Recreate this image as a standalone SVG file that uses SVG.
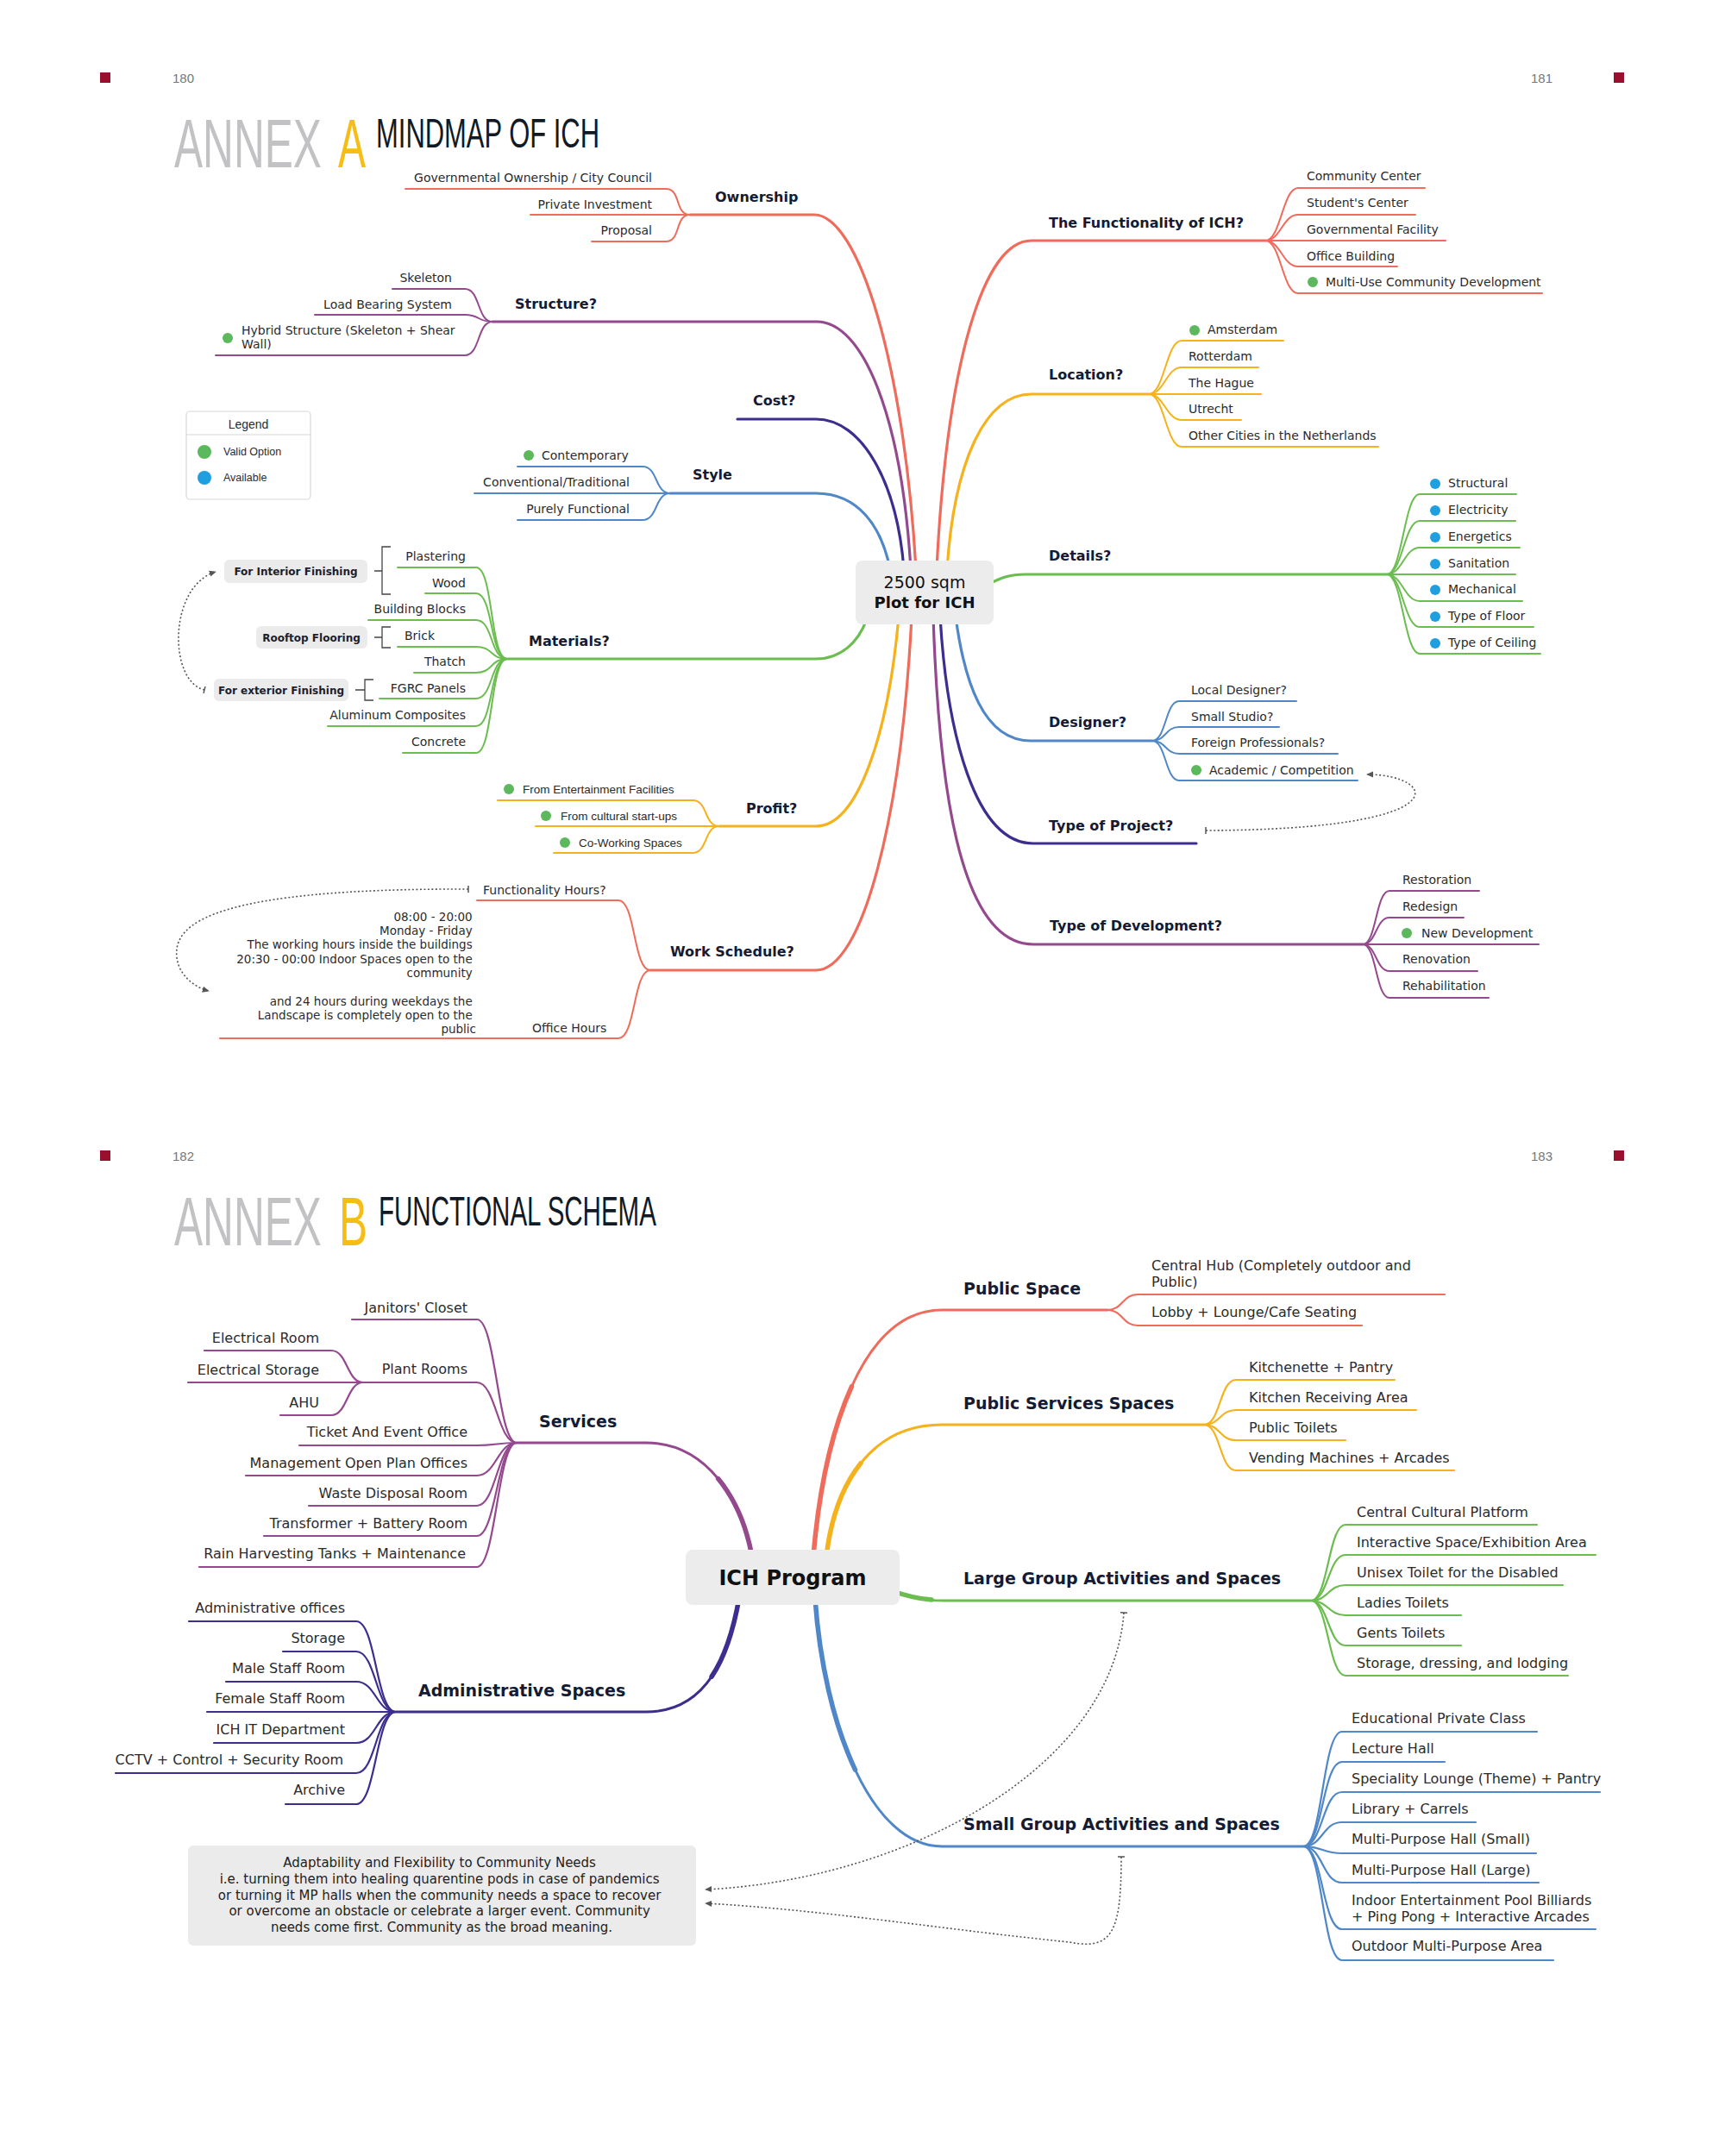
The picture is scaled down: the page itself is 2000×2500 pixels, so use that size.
<svg xmlns="http://www.w3.org/2000/svg" width="2000" height="2500" viewBox="0 0 2000 2500">
<style>
.t{font-family:'DejaVu Sans',sans-serif;fill:#2b2b2b}
.c{font-size:14px}
.b{font-weight:bold;font-size:16px;fill:#141b33}
.cb{font-size:16px}
.bb{font-weight:bold;font-size:19px;fill:#141b33}
.ls{font-family:'Liberation Sans',Arial,sans-serif;fill:#2b2b2b}
.e{text-anchor:end}
.m{text-anchor:middle}
.k{fill:none;stroke-linecap:round}
.w1{stroke-width:3.2}.w2{stroke-width:2}.w3{stroke-width:3}.w4{stroke-width:2.2}.w5{stroke-width:5.5}
.red{stroke:#ef6b5b}.pur{stroke:#94498f}.nav{stroke:#3c2e8e}.blu{stroke:#4f87c8}.ora{stroke:#f6b21c}.gre{stroke:#6cbd50}
.dash{fill:none;stroke:#555;stroke-width:1.6;stroke-dasharray:2 2.5}
.dg{fill:#5cb85c}.db{fill:#1f9fe0}
.lab{fill:#ebebeb}
.lbt{font-family:'DejaVu Sans',sans-serif;font-weight:bold;font-size:12px;fill:#1d1d2b;text-anchor:middle}
.br{fill:none;stroke:#444;stroke-width:1.3}
.ttl{font-family:'Liberation Sans',Arial,sans-serif}
.gy{fill:#c2c2c4}.yl{fill:#f6bd16}.dk{fill:#111a24}
</style>
<defs>
<marker id="arr" viewBox="0 -5 10 10" refX="8" refY="0" markerWidth="9" markerHeight="9" markerUnits="userSpaceOnUse" orient="auto"><path d="M0 -4 L9 0 L0 4 z" fill="#555"/></marker>
<marker id="tick" viewBox="-5 -5 10 10" refX="0" refY="0" markerWidth="10" markerHeight="10" markerUnits="userSpaceOnUse" orient="auto"><path d="M0 -4 V4" stroke="#555" stroke-width="1.5"/></marker>
</defs>
<rect width="2000" height="2500" fill="#fff"/>

<!-- page headers -->
<g id="header-a">
<rect x="116" y="84" width="12" height="12" fill="#9b0f2e"/>
<rect x="1871" y="84" width="12" height="12" fill="#9b0f2e"/>
<text class="ls" x="200" y="96" font-size="15" style="fill:#777">180</text>
<text class="ls e" x="1800" y="96" font-size="15" style="fill:#777">181</text>
<text class="ttl gy" transform="translate(202 194) scale(0.62 1)" font-size="80">ANNEX</text>
<text class="ttl yl" transform="translate(392 194) scale(0.6 1)" font-size="80">A</text>
<text class="ttl dk" transform="translate(436 171) scale(0.645 1)" font-size="48">MINDMAP OF ICH</text>
</g>
<g id="header-b">
<rect x="116" y="1334" width="12" height="12" fill="#9b0f2e"/>
<rect x="1871" y="1334" width="12" height="12" fill="#9b0f2e"/>
<text class="ls" x="200" y="1346" font-size="15" style="fill:#777">182</text>
<text class="ls e" x="1800" y="1346" font-size="15" style="fill:#777">183</text>
<text class="ttl gy" transform="translate(202 1444) scale(0.62 1)" font-size="80">ANNEX</text>
<text class="ttl yl" transform="translate(393 1444) scale(0.62 1)" font-size="80">B</text>
<text class="ttl dk" transform="translate(439 1421) scale(0.615 1)" font-size="48">FUNCTIONAL SCHEMA</text>
</g>

<!-- ================= CONNECTORS ================= -->
<g id="connectors">
<!-- Annex A main branches -->
<path class="k w1 red" d="M800 249 L944 249 C995 249 1048 420 1062 660"/>
<path class="k w1 pur" d="M571 373 L947 373 C1000 373 1045 480 1056 660"/>
<path class="k w1 nav" d="M855 486 L946 486 C1000 486 1040 560 1048 660"/>
<path class="k w1 blu" d="M777 572 L946 572 C995 572 1022 610 1032 660"/>
<path class="k w1 gre" d="M588 764 L946 764 C975 764 995 745 1005 718"/>
<path class="k w1 ora" d="M834 958 L946 958 C995 958 1030 850 1042 715"/>
<path class="k w1 red" d="M754 1125 L946 1125 C1000 1125 1045 950 1057 715"/>
<path class="k w1 red" d="M1467 279 L1196 279 C1140 279 1098 420 1086 660"/>
<path class="k w1 ora" d="M1332 457 L1196 457 C1140 457 1106 540 1098 660"/>
<path class="k w1 gre" d="M1608 666 L1189 666 C1170 666 1160 670 1145 678"/>
<path class="k w1 blu" d="M1336 859 L1195 859 C1140 859 1118 790 1108 715"/>
<path class="k w1 nav" d="M1387 978 L1198 978 C1130 978 1098 850 1090 715"/>
<path class="k w1 pur" d="M1580 1095 L1198 1095 C1110 1095 1088 900 1082 715"/>

<!-- Annex A sub branches -->
<g class="k w2 red">
<path d="M800 249 C782 249 790 219 772 219 L470 219"/>
<path d="M800 249 L615 249"/>
<path d="M800 249 C782 249 790 280 772 280 L686 280"/>
</g>
<g class="k w2 pur">
<path d="M571 373 C553 373 557 335 539 335 L455 335"/>
<path d="M571 373 C553 373 557 365 539 365 L365 365"/>
<path d="M571 373 C553 373 557 412 539 412 L250 412"/>
</g>
<g class="k w2 blu">
<path d="M777 572 C759 572 763 541 745 541 L600 541"/>
<path d="M777 572 L550 572"/>
<path d="M777 572 C759 572 763 603 745 603 L600 603"/>
</g>
<g class="k w2 gre">
<path d="M588 764 C568 764 572 658 552 658 L461 658"/>
<path d="M588 764 C568 764 572 688 552 688 L493 688"/>
<path d="M588 764 C568 764 572 719 552 719 L427 719"/>
<path d="M588 764 C568 764 572 750 552 750 L461 750"/>
<path d="M588 764 C568 764 572 780 552 780 L480 780"/>
<path d="M588 764 C568 764 572 810 552 810 L440 810"/>
<path d="M588 764 C568 764 572 842 552 842 L380 842"/>
<path d="M588 764 C568 764 572 873 552 873 L467 873"/>
</g>
<g class="k w2 ora">
<path d="M834 958 C816 958 821 928 803 928 L577 928"/>
<path d="M834 958 L621 958"/>
<path d="M834 958 C816 958 821 989 803 989 L642 989"/>
</g>
<g class="k w2 red">
<path d="M754 1125 C734 1125 737 1044 717 1044 L553 1044"/>
<path d="M754 1125 C734 1125 737 1204 717 1204 L255 1204"/>
</g>
<g class="k w2 red">
<path d="M1467 279 C1485 279 1487 218 1505 218 L1652 218"/>
<path d="M1467 279 C1485 279 1487 249 1505 249 L1641 249"/>
<path d="M1467 279 L1676 279"/>
<path d="M1467 279 C1485 279 1487 309 1505 309 L1620 309"/>
<path d="M1467 279 C1485 279 1487 340 1505 340 L1788 340"/>
</g>
<g class="k w2 ora">
<path d="M1332 457 C1350 457 1352 395 1370 395 L1488 395"/>
<path d="M1332 457 C1350 457 1352 426 1370 426 L1459 426"/>
<path d="M1332 457 L1462 457"/>
<path d="M1332 457 C1350 457 1352 487 1370 487 L1439 487"/>
<path d="M1332 457 C1350 457 1352 518 1370 518 L1598 518"/>
</g>
<g class="k w2 gre">
<path d="M1608 666 C1626 666 1628 573 1646 573 L1758 573"/>
<path d="M1608 666 C1626 666 1628 604 1646 604 L1757 604"/>
<path d="M1608 666 C1626 666 1628 635 1646 635 L1762 635"/>
<path d="M1608 666 L1757 666"/>
<path d="M1608 666 C1626 666 1628 697 1646 697 L1765 697"/>
<path d="M1608 666 C1626 666 1628 727 1646 727 L1778 727"/>
<path d="M1608 666 C1626 666 1628 758 1646 758 L1786 758"/>
</g>
<g class="k w2 blu">
<path d="M1336 859 C1352 859 1351 813 1367 813 L1503 813"/>
<path d="M1336 859 C1352 859 1351 843 1367 843 L1483 843"/>
<path d="M1336 859 C1352 859 1351 874 1367 874 L1551 874"/>
<path d="M1336 859 C1352 859 1351 905 1367 905 L1574 905"/>
</g>
<g class="k w2 pur">
<path d="M1580 1095 C1596 1095 1595 1033 1611 1033 L1715 1033"/>
<path d="M1580 1095 C1596 1095 1595 1064 1611 1064 L1697 1064"/>
<path d="M1580 1095 L1784 1095"/>
<path d="M1580 1095 C1596 1095 1595 1126 1611 1126 L1713 1126"/>
<path d="M1580 1095 C1596 1095 1595 1157 1611 1157 L1726 1157"/>
</g>

<!-- Annex A dashed relations -->
<path class="dash" d="M237 800 C195 790 195 680 250 663" marker-start="url(#tick)" marker-end="url(#arr)"/>
<path class="dash" d="M1398 963 C1700 962 1665 898 1585 898" marker-start="url(#tick)" marker-end="url(#arr)"/>
<path class="dash" d="M543 1031 C250 1030 200 1070 205 1110 C207 1130 225 1145 242 1149" marker-start="url(#tick)" marker-end="url(#arr)"/>

<!-- Annex B main branches (thin full path + thicker half near the hub) -->
<path class="k w3 pur" d="M599 1673 L749 1673 C820 1673 860 1740 872 1805"/>
<path class="k w5 pur" d="M832.6 1714.6 C853 1739.5 866 1772.5 872 1805"/>
<path class="k w3 nav" d="M459 1985 L749 1985 C820 1985 845 1920 857 1853"/>
<path class="k w5 nav" d="M825.1 1944.1 C841.75 1919.5 851 1886.5 857 1853"/>
<path class="k w3 red" d="M1284 1519 L1092 1519 C1000 1519 955 1660 943 1805"/>
<path class="k w5 red" d="M987.5 1607.6 C963.25 1661 949 1732.5 943 1805"/>
<path class="k w3 ora" d="M1396 1652 L1092 1652 C1010 1652 968 1720 958 1805"/>
<path class="k w5 ora" d="M998 1696.6 C976 1724.25 963 1762.5 958 1805"/>
<path class="k w3 gre" d="M1520 1856 L1095 1856 C1070 1856 1055 1852 1035 1845"/>
<path class="k w5 gre" d="M1080 1855 C1065 1854 1052 1851 1035 1845"/>
<path class="k w3 blu" d="M1511 2141 L1092 2141 C1010 2141 955 2000 945 1853"/>
<path class="k w5 blu" d="M991.5 2052.1 C966.25 1998.5 950 1926.5 945 1853"/>

<!-- Annex B sub branches -->
<g class="k w4 pur">
<path d="M599 1673 C577 1673 575 1530 553 1530 L408 1530"/>
<path d="M599 1673 C577 1673 575 1603 553 1603 L421 1603"/>
<path d="M599 1673 C577 1673 575 1676 553 1676 L347 1676"/>
<path d="M599 1673 C577 1673 575 1711 553 1711 L285 1711"/>
<path d="M599 1673 C577 1673 575 1746 553 1746 L358 1746"/>
<path d="M599 1673 C577 1673 575 1781 553 1781 L306 1781"/>
<path d="M599 1673 C577 1673 575 1817 553 1817 L231 1817"/>
<path d="M421 1603 C402 1603 403 1566 384 1566 L237 1566"/>
<path d="M421 1603 L218 1603"/>
<path d="M421 1603 C402 1603 403 1641 384 1641 L325 1641"/>
</g>
<g class="k w4 nav">
<path d="M459 1985 C436 1985 436 1880 413 1880 L219 1880"/>
<path d="M459 1985 C436 1985 436 1915 413 1915 L328 1915"/>
<path d="M459 1985 C436 1985 436 1950 413 1950 L262 1950"/>
<path d="M459 1985 L240 1985"/>
<path d="M459 1985 C436 1985 436 2021 413 2021 L248 2021"/>
<path d="M459 1985 C436 1985 436 2056 413 2056 L134 2056"/>
<path d="M459 1985 C436 1985 436 2092 413 2092 L331 2092"/>
</g>
<g class="k w4 red">
<path d="M1284 1519 C1302 1519 1301 1501 1319 1501 L1675 1501"/>
<path d="M1284 1519 C1302 1519 1301 1537 1319 1537 L1579 1537"/>
</g>
<g class="k w4 ora">
<path d="M1396 1652 C1415 1652 1414 1600 1433 1600 L1617 1600"/>
<path d="M1396 1652 C1415 1652 1414 1635 1433 1635 L1642 1635"/>
<path d="M1396 1652 C1415 1652 1414 1670 1433 1670 L1560 1670"/>
<path d="M1396 1652 C1415 1652 1414 1705 1433 1705 L1686 1705"/>
</g>
<g class="k w4 gre">
<path d="M1520 1856 C1540 1856 1540 1768 1560 1768 L1782 1768"/>
<path d="M1520 1856 C1540 1856 1540 1803 1560 1803 L1850 1803"/>
<path d="M1520 1856 C1540 1856 1540 1838 1560 1838 L1812 1838"/>
<path d="M1520 1856 C1540 1856 1540 1873 1560 1873 L1694 1873"/>
<path d="M1520 1856 C1540 1856 1540 1908 1560 1908 L1694 1908"/>
<path d="M1520 1856 C1540 1856 1540 1943 1560 1943 L1818 1943"/>
</g>
<g class="k w4 blu">
<path d="M1511 2141 C1534 2141 1533 2008 1556 2008 L1782 2008"/>
<path d="M1511 2141 C1534 2141 1533 2043 1556 2043 L1675 2043"/>
<path d="M1511 2141 C1534 2141 1533 2078 1556 2078 L1855 2078"/>
<path d="M1511 2141 C1534 2141 1533 2113 1556 2113 L1711 2113"/>
<path d="M1511 2141 C1534 2141 1533 2149 1556 2149 L1781 2149"/>
<path d="M1511 2141 C1534 2141 1533 2183 1556 2183 L1784 2183"/>
<path d="M1511 2141 C1534 2141 1533 2237 1556 2237 L1850 2237"/>
<path d="M1511 2141 C1534 2141 1533 2273 1556 2273 L1801 2273"/>
</g>

<!-- Annex B dashed relations -->
<path class="dash" d="M1303 1870 C1290 2050 1050 2180 818 2191" marker-start="url(#tick)" marker-end="url(#arr)"/>
<path class="dash" d="M1300 2153 C1300 2240 1290 2262 1240 2252 C1100 2238 950 2214 818 2207" marker-start="url(#tick)" marker-end="url(#arr)"/>
</g>

<!-- ================= ANNEX A NODES ================= -->
<g id="node-center-a">
<rect x="992" y="650" width="160" height="74" rx="8" fill="#ececec"/>
<text class="t m" x="1072" y="682" font-size="19" style="fill:#111">2500 sqm</text>
<text class="t m" x="1072" y="705" font-size="18" font-weight="bold" style="fill:#111">Plot for ICH</text>
</g>

<g id="node-ownership">
<text class="t b" x="829" y="234">Ownership</text>
<text class="t c e" x="756" y="211">Governmental Ownership / City Council</text>
<text class="t c e" x="756" y="242">Private Investment</text>
<text class="t c e" x="756" y="272">Proposal</text>
</g>

<g id="node-structure">
<text class="t b" x="597" y="358">Structure?</text>
<text class="t c e" x="524" y="327">Skeleton</text>
<text class="t c e" x="524" y="358">Load Bearing System</text>
<circle class="dg" cx="264" cy="392" r="6"/>
<text class="t c" x="280" y="388">Hybrid Structure (Skeleton + Shear</text>
<text class="t c" x="280" y="404">Wall)</text>
</g>

<g id="node-cost">
<text class="t b" x="873" y="470">Cost?</text>
</g>

<g id="legend">
<rect x="216" y="477" width="144" height="102" rx="4" fill="#fff" stroke="#d8d8d8" stroke-width="1.2"/>
<line x1="216" y1="504" x2="360" y2="504" stroke="#d8d8d8" stroke-width="1.2"/>
<text class="ls m" x="288" y="497" font-size="14">Legend</text>
<circle class="dg" cx="237" cy="524" r="8"/>
<text class="ls" x="259" y="528" font-size="12.5">Valid Option</text>
<circle class="db" cx="237" cy="554" r="8"/>
<text class="ls" x="259" y="558" font-size="12.5">Available</text>
</g>

<g id="node-style">
<text class="t b" x="803" y="556">Style</text>
<circle class="dg" cx="613" cy="528" r="6"/>
<text class="t c" x="628" y="533">Contemporary</text>
<text class="t c e" x="730" y="564">Conventional/Traditional</text>
<text class="t c e" x="730" y="595">Purely Functional</text>
</g>

<g id="node-materials">
<text class="t b" x="613" y="749">Materials?</text>
<text class="t c e" x="540" y="650">Plastering</text>
<text class="t c e" x="540" y="681">Wood</text>
<text class="t c e" x="540" y="711">Building Blocks</text>
<text class="t c" x="469" y="742">Brick</text>
<text class="t c e" x="540" y="772">Thatch</text>
<text class="t c e" x="540" y="803">FGRC Panels</text>
<text class="t c e" x="540" y="834">Aluminum Composites</text>
<text class="t c e" x="540" y="865">Concrete</text>
</g>

<g id="label-interior">
<rect class="lab" x="260" y="649" width="166" height="27" rx="6"/>
<text class="lbt" x="343" y="667">For Interior Finishing</text>
<path class="br" d="M453 634 H443 V689 H453 M434 662 H443"/>
</g>
<g id="label-rooftop">
<rect class="lab" x="297" y="726" width="129" height="26" rx="6"/>
<text class="lbt" x="361" y="744">Rooftop Flooring</text>
<path class="br" d="M453 727 H443 V751 H453 M434 739 H443"/>
</g>
<g id="label-exterior">
<rect class="lab" x="248" y="787" width="156" height="26" rx="6"/>
<text class="lbt" x="326" y="805">For exterior Finishing</text>
<path class="br" d="M433 788 H423 V812 H433 M412 800 H423"/>
</g>

<g id="node-profit">
<text class="t b" x="865" y="943">Profit?</text>
<circle class="dg" cx="590" cy="915" r="6"/>
<text class="ls" x="606" y="920" font-size="13.5">From Entertainment Facilities</text>
<circle class="dg" cx="633" cy="946" r="6"/>
<text class="ls" x="650" y="951" font-size="13.5">From cultural start-ups</text>
<circle class="dg" cx="655" cy="977" r="6"/>
<text class="ls" x="671" y="982" font-size="13.5">Co-Working Spaces</text>
</g>

<g id="node-work-schedule">
<text class="t b" x="777" y="1109">Work Schedule?</text>
<text class="t c" x="560" y="1037">Functionality Hours?</text>
<text class="t e" x="552" font-size="13.5">
<tspan x="552" y="1068">08:00 - 20:00</tspan>
<tspan x="552" y="1084">Monday - Friday</tspan>
<tspan x="552" y="1100">The working hours inside the buildings</tspan>
<tspan x="552" y="1117">20:30 - 00:00 Indoor Spaces open to the</tspan>
<tspan x="552" y="1133">community</tspan>
<tspan x="552" y="1166">and 24 hours during weekdays the</tspan>
<tspan x="552" y="1182">Landscape is completely open to the</tspan>
<tspan x="552" y="1198">public</tspan>
</text>
<text class="t c" x="617" y="1197">Office Hours</text>
</g>

<g id="node-functionality">
<text class="t b" x="1216" y="264">The Functionality of ICH?</text>
<text class="t c" x="1515" y="209">Community Center</text>
<text class="t c" x="1515" y="240">Student's Center</text>
<text class="t c" x="1515" y="271">Governmental Facility</text>
<text class="t c" x="1515" y="302">Office Building</text>
<circle class="dg" cx="1522" cy="327" r="6"/>
<text class="t c" x="1537" y="332">Multi-Use Community Development</text>
</g>

<g id="node-location">
<text class="t b" x="1216" y="440">Location?</text>
<circle class="dg" cx="1385" cy="383" r="6"/>
<text class="t c" x="1400" y="387">Amsterdam</text>
<text class="t c" x="1378" y="418">Rotterdam</text>
<text class="t c" x="1378" y="449">The Hague</text>
<text class="t c" x="1378" y="479">Utrecht</text>
<text class="t c" x="1378" y="510">Other Cities in the Netherlands</text>
</g>

<g id="node-details">
<text class="t b" x="1216" y="650">Details?</text>
<circle class="db" cx="1664" cy="561" r="6"/>
<text class="t c" x="1679" y="565">Structural</text>
<circle class="db" cx="1664" cy="592" r="6"/>
<text class="t c" x="1679" y="596">Electricity</text>
<circle class="db" cx="1664" cy="623" r="6"/>
<text class="t c" x="1679" y="627">Energetics</text>
<circle class="db" cx="1664" cy="654" r="6"/>
<text class="t c" x="1679" y="658">Sanitation</text>
<circle class="db" cx="1664" cy="684" r="6"/>
<text class="t c" x="1679" y="688">Mechanical</text>
<circle class="db" cx="1664" cy="715" r="6"/>
<text class="t c" x="1679" y="719">Type of Floor</text>
<circle class="db" cx="1664" cy="746" r="6"/>
<text class="t c" x="1679" y="750">Type of Ceiling</text>
</g>

<g id="node-designer">
<text class="t b" x="1216" y="843">Designer?</text>
<text class="t c" x="1381" y="805">Local Designer?</text>
<text class="t c" x="1381" y="836">Small Studio?</text>
<text class="t c" x="1381" y="866">Foreign Professionals?</text>
<circle class="dg" cx="1387" cy="893" r="6"/>
<text class="t c" x="1402" y="898">Academic / Competition</text>
</g>

<g id="node-type-project">
<text class="t b" x="1216" y="963">Type of Project?</text>
</g>

<g id="node-type-development">
<text class="t b" x="1217" y="1079">Type of Development?</text>
<text class="t c" x="1626" y="1025">Restoration</text>
<text class="t c" x="1626" y="1056">Redesign</text>
<circle class="dg" cx="1631" cy="1082" r="6"/>
<text class="t c" x="1648" y="1087">New Development</text>
<text class="t c" x="1626" y="1117">Renovation</text>
<text class="t c" x="1626" y="1148">Rehabilitation</text>
</g>

<!-- ================= ANNEX B NODES ================= -->
<g id="node-center-b">
<rect x="795" y="1797" width="248" height="64" rx="8" fill="#ececec"/>
<text class="t m" x="919" y="1838" font-size="24" font-weight="bold" style="fill:#111">ICH Program</text>
</g>

<g id="node-services">
<text class="t bb" x="625" y="1655">Services</text>
<text class="t cb e" x="542" y="1522">Janitors' Closet</text>
<text class="t cb e" x="542" y="1593">Plant Rooms</text>
<text class="t cb e" x="370" y="1557">Electrical Room</text>
<text class="t cb e" x="370" y="1594">Electrical Storage</text>
<text class="t cb e" x="370" y="1632">AHU</text>
<text class="t cb e" x="542" y="1666">Ticket And Event Office</text>
<text class="t cb e" x="542" y="1702">Management Open Plan Offices</text>
<text class="t cb e" x="542" y="1737">Waste Disposal Room</text>
<text class="t cb e" x="542" y="1772">Transformer + Battery Room</text>
<text class="t cb e" x="540" y="1807">Rain Harvesting Tanks + Maintenance</text>
</g>

<g id="node-administrative">
<text class="t bb" x="485" y="1967">Administrative Spaces</text>
<text class="t cb e" x="400" y="1870">Administrative offices</text>
<text class="t cb e" x="400" y="1905">Storage</text>
<text class="t cb e" x="400" y="1940">Male Staff Room</text>
<text class="t cb e" x="400" y="1975">Female Staff Room</text>
<text class="t cb e" x="400" y="2011">ICH IT Department</text>
<text class="t cb e" x="398" y="2046">CCTV + Control + Security Room</text>
<text class="t cb e" x="400" y="2081">Archive</text>
</g>

<g id="node-public-space">
<text class="t bb" x="1117" y="1501">Public Space</text>
<text class="t cb" x="1335" y="1473">Central Hub (Completely outdoor and</text>
<text class="t cb" x="1335" y="1492">Public)</text>
<text class="t cb" x="1335" y="1527">Lobby + Lounge/Cafe Seating</text>
</g>

<g id="node-public-services">
<text class="t bb" x="1117" y="1634">Public Services Spaces</text>
<text class="t cb" x="1448" y="1591">Kitchenette + Pantry</text>
<text class="t cb" x="1448" y="1626">Kitchen Receiving Area</text>
<text class="t cb" x="1448" y="1661">Public Toilets</text>
<text class="t cb" x="1448" y="1696">Vending Machines + Arcades</text>
</g>

<g id="node-large-group">
<text class="t bb" x="1117" y="1837">Large Group Activities and Spaces</text>
<text class="t cb" x="1573" y="1759">Central Cultural Platform</text>
<text class="t cb" x="1573" y="1794">Interactive Space/Exhibition Area</text>
<text class="t cb" x="1573" y="1829">Unisex Toilet for the Disabled</text>
<text class="t cb" x="1573" y="1864">Ladies Toilets</text>
<text class="t cb" x="1573" y="1899">Gents Toilets</text>
<text class="t cb" x="1573" y="1934">Storage, dressing, and lodging</text>
</g>

<g id="node-small-group">
<text class="t bb" x="1117" y="2122">Small Group Activities and Spaces</text>
<text class="t cb" x="1567" y="1998">Educational Private Class</text>
<text class="t cb" x="1567" y="2033">Lecture Hall</text>
<text class="t cb" x="1567" y="2068">Speciality Lounge (Theme) + Pantry</text>
<text class="t cb" x="1567" y="2103">Library + Carrels</text>
<text class="t cb" x="1567" y="2138">Multi-Purpose Hall (Small)</text>
<text class="t cb" x="1567" y="2174">Multi-Purpose Hall (Large)</text>
<text class="t cb" x="1567" y="2209">Indoor Entertainment Pool Billiards</text>
<text class="t cb" x="1567" y="2228">+ Ping Pong + Interactive Arcades</text>
<text class="t cb" x="1567" y="2262">Outdoor Multi-Purpose Area</text>
</g>

<g id="node-note">
<rect x="218" y="2140" width="589" height="116" rx="6" fill="#ebebeb"/>
<text class="t m" font-size="15" style="fill:#222">
<tspan x="512" y="2165">Adaptability and Flexibility to Community Needs</tspan>
<tspan x="512" y="2184">i.e. turning them into healing quarentine pods in case of pandemics</tspan>
<tspan x="512" y="2203">or turning it MP halls when the community needs a space to recover</tspan>
<tspan x="512" y="2221">or overcome an obstacle or celebrate a larger event. Community</tspan>
<tspan x="512" y="2240">needs come first. Community as the broad meaning.</tspan>
</text>
</g>
</svg>
